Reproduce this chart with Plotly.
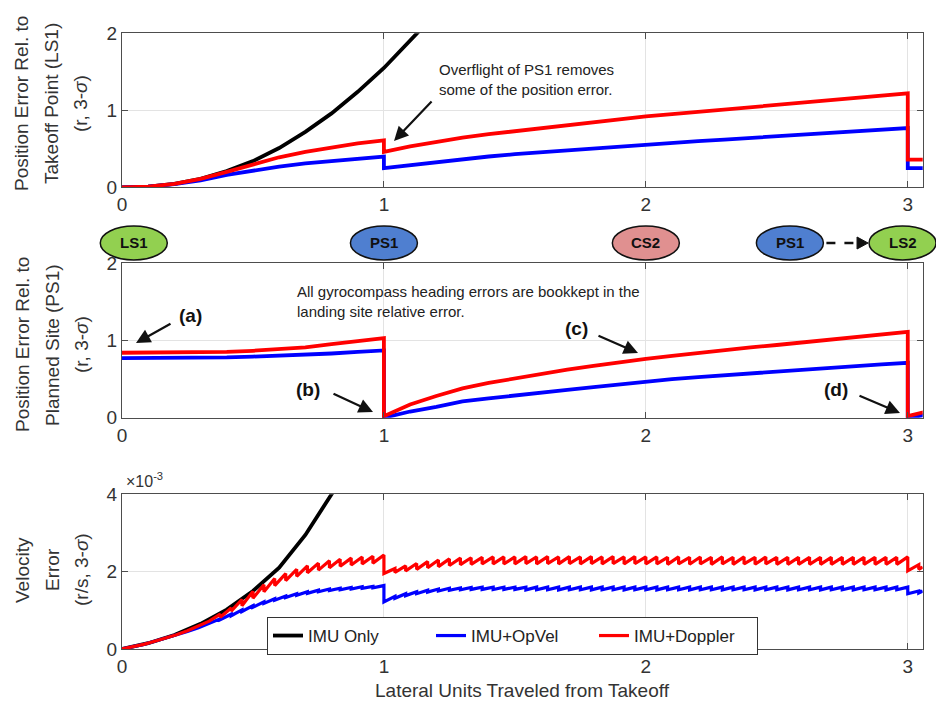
import plotly.graph_objects as go

W, H = 936, 717

# ---------------- data ----------------
# x positions (lateral units traveled from takeoff)
x_seg1 = [0.0, 0.1, 0.2, 0.3, 0.4, 0.5, 0.6, 0.7, 0.8, 0.9, 1.0]
x_seg2 = [1.0, 1.1, 1.2, 1.3, 1.4, 1.5, 1.6, 1.7, 1.8, 1.9, 2.0,
          2.1, 2.2, 2.3, 2.4, 2.5, 2.6, 2.7, 2.8, 2.9, 3.0]
x_seg3 = [3.0, 3.06]
x_full = x_seg1 + x_seg2 + x_seg3

# Panel 1: position error relative to takeoff point (LS1)
x_pos_imu = [0.0, 0.1, 0.2, 0.3, 0.4, 0.5, 0.6, 0.7, 0.8, 0.9, 1.0, 1.1, 1.16]
pos_ls1_imu = [0.0, 0.01, 0.045, 0.11, 0.21, 0.34, 0.51, 0.72, 0.96, 1.24, 1.55, 1.9, 2.12]
pos_ls1_opvel = ([0.0, 0.01, 0.04, 0.09, 0.16, 0.22, 0.27, 0.31, 0.34, 0.37, 0.40]
                 + [0.25, 0.29, 0.33, 0.37, 0.40, 0.43, 0.455, 0.48, 0.505, 0.535, 0.56,
                    0.58, 0.60, 0.62, 0.64, 0.665, 0.685, 0.705, 0.725, 0.745, 0.77]
                 + [0.25, 0.25])
pos_ls1_doppler = ([0.0, 0.01, 0.045, 0.11, 0.2, 0.3, 0.39, 0.46, 0.52, 0.57, 0.61]
                   + [0.46, 0.53, 0.59, 0.645, 0.69, 0.73, 0.77, 0.81, 0.85, 0.885, 0.92,
                      0.95, 0.98, 1.01, 1.04, 1.07, 1.10, 1.13, 1.16, 1.19, 1.22]
                   + [0.36, 0.36])

# Panel 2: position error relative to planned site (PS1)
pos_ps1_opvel = ([0.77, 0.77, 0.77, 0.775, 0.78, 0.79, 0.80, 0.815, 0.83, 0.85, 0.87]
                 + [0.0, 0.08, 0.14, 0.21, 0.25, 0.29, 0.33, 0.36, 0.395, 0.43, 0.47,
                    0.50, 0.525, 0.55, 0.575, 0.60, 0.625, 0.645, 0.67, 0.69, 0.71]
                 + [0.0, 0.03])
pos_ps1_doppler = ([0.84, 0.84, 0.84, 0.84, 0.85, 0.865, 0.885, 0.91, 0.95, 0.99, 1.03]
                   + [0.02, 0.17, 0.28, 0.38, 0.45, 0.51, 0.57, 0.62, 0.67, 0.72, 0.76,
                      0.80, 0.84, 0.875, 0.91, 0.94, 0.975, 1.01, 1.04, 1.075, 1.11]
                   + [0.02, 0.07])

# Panel 3: velocity error (units of 1e-3 r/s)
x_vel_imu = [0.0, 0.1, 0.2, 0.3, 0.4, 0.5, 0.6, 0.7, 0.8, 0.83]
vel_imu = [0.0, 0.15, 0.36, 0.65, 1.02, 1.5, 2.1, 2.95, 4.0, 4.3]

# filter update points (pre-update and post-update values)
x_upd = [0.042, 0.083, 0.125, 0.167, 0.208, 0.250, 0.292, 0.333, 0.375, 0.417, 0.458, 0.500,
         0.542, 0.583, 0.625, 0.667, 0.708, 0.750, 0.792, 0.833, 0.875, 0.917, 0.958, 1.000,
         1.042, 1.083, 1.125, 1.167, 1.208, 1.250, 1.292, 1.333, 1.375, 1.417, 1.458, 1.500,
         1.542, 1.583, 1.625, 1.667, 1.708, 1.750, 1.792, 1.833, 1.875, 1.917, 1.958, 2.000,
         2.042, 2.083, 2.125, 2.167, 2.208, 2.250, 2.292, 2.333, 2.375, 2.417, 2.458, 2.500,
         2.542, 2.583, 2.625, 2.667, 2.708, 2.750, 2.792, 2.833, 2.875, 2.917, 2.958, 3.000,
         3.042]
vel_doppler_pre = [0.06, 0.12, 0.20, 0.28, 0.37, 0.47, 0.59, 0.72, 0.90, 1.06, 1.28, 1.49,
                   1.66, 1.82, 1.95, 2.06, 2.15, 2.22, 2.28, 2.32, 2.35, 2.38, 2.40, 2.43,
                   2.08, 2.15, 2.21, 2.26, 2.30, 2.33, 2.35, 2.36, 2.37, 2.38, 2.38, 2.38,
                   2.39, 2.38, 2.39, 2.38, 2.39, 2.38, 2.39, 2.38, 2.39, 2.38, 2.39, 2.38,
                   2.38, 2.37, 2.38, 2.37, 2.38, 2.37, 2.38, 2.37, 2.38, 2.37, 2.38, 2.37,
                   2.37, 2.37, 2.37, 2.37, 2.37, 2.37, 2.37, 2.37, 2.37, 2.37, 2.37, 2.38,
                   2.18]
vel_doppler_post = [0.06, 0.12, 0.20, 0.28, 0.37, 0.47, 0.59, 0.72, 0.82, 0.98, 1.12, 1.31,
                    1.48, 1.64, 1.77, 1.88, 1.97, 2.04, 2.10, 2.14, 2.17, 2.20, 2.22, 1.95,
                    1.98, 2.02, 2.06, 2.10, 2.13, 2.16, 2.18, 2.19, 2.20, 2.20, 2.20, 2.20,
                    2.21, 2.20, 2.21, 2.20, 2.21, 2.20, 2.21, 2.20, 2.21, 2.20, 2.21, 2.20,
                    2.20, 2.19, 2.20, 2.19, 2.20, 2.19, 2.20, 2.19, 2.20, 2.19, 2.20, 2.19,
                    2.19, 2.19, 2.19, 2.19, 2.19, 2.19, 2.19, 2.19, 2.19, 2.19, 2.19, 2.02,
                    2.06]
vel_opvel_pre = [0.06, 0.12, 0.20, 0.28, 0.36, 0.45, 0.55, 0.66, 0.78, 0.90, 1.01, 1.12,
                 1.22, 1.30, 1.37, 1.43, 1.48, 1.52, 1.55, 1.57, 1.59, 1.61, 1.62, 1.64,
                 1.36, 1.43, 1.48, 1.52, 1.55, 1.57, 1.58, 1.59, 1.60, 1.60, 1.60, 1.60,
                 1.60, 1.60, 1.60, 1.60, 1.60, 1.60, 1.60, 1.60, 1.60, 1.60, 1.60, 1.60,
                 1.60, 1.60, 1.60, 1.60, 1.60, 1.60, 1.60, 1.60, 1.60, 1.60, 1.60, 1.60,
                 1.60, 1.60, 1.60, 1.60, 1.60, 1.60, 1.60, 1.60, 1.60, 1.60, 1.60, 1.60,
                 1.50]
vel_opvel_post = [0.06, 0.12, 0.20, 0.28, 0.36, 0.45, 0.55, 0.66, 0.76, 0.86, 0.97, 1.08,
                  1.18, 1.26, 1.33, 1.39, 1.44, 1.48, 1.51, 1.53, 1.55, 1.57, 1.58, 1.22,
                  1.31, 1.38, 1.43, 1.47, 1.50, 1.52, 1.53, 1.54, 1.54, 1.54, 1.54, 1.54,
                  1.53, 1.53, 1.53, 1.53, 1.53, 1.53, 1.53, 1.53, 1.53, 1.53, 1.53, 1.53,
                  1.53, 1.53, 1.53, 1.53, 1.53, 1.53, 1.53, 1.53, 1.53, 1.53, 1.53, 1.53,
                  1.53, 1.53, 1.53, 1.53, 1.53, 1.53, 1.53, 1.53, 1.53, 1.53, 1.53, 1.43,
                  1.45]
x_vel_end = 3.057
vel_doppler_end = 2.12
vel_opvel_end = 1.50

series_names = ["IMU Only", "IMU+OpVel", "IMU+Doppler"]
series_colors = ["#000000", "#0000FF", "#FF0000"]

x_ticks = [0, 1, 2, 3]
y_ticks_pos = [0, 1, 2]
y_ticks_vel = [0, 2, 4]

# sites along the route
site_labels = ["LS1", "PS1", "CS2", "PS1", "LS2"]
site_x = [0.045, 1.0, 2.0, 2.55, 2.98]
site_colors = ["#92D050", "#4F7FD0", "#E09090", "#4F7FD0", "#92D050"]


def stair(pre, post, end_val):
    xs, ys = [0.0], [0.0]
    for xu, a, b in zip(x_upd, pre, post):
        xs += [xu, xu]
        ys += [a, b]
    xs.append(x_vel_end)
    ys.append(end_val)
    return xs, ys


# ---------------- layout helpers ----------------
FONT = "Liberation Sans, Arial, sans-serif"
AX_COLOR = "#4d4d4d"
X0_PX, X1_PX = 122.0, 922.7
XMAX = 3.057


def px(xp):
    return xp / W


def py(yp):
    return 1 - yp / H


def xdata_to_px(v):
    return X0_PX + (X1_PX - X0_PX) * v / XMAX


fig = go.Figure()
LW = 3.8

# Panel 1
fig.add_trace(go.Scatter(x=x_pos_imu, y=pos_ls1_imu, mode="lines", name=series_names[0],
                         line=dict(color=series_colors[0], width=LW), xaxis="x", yaxis="y",
                         showlegend=False))
fig.add_trace(go.Scatter(x=x_full, y=pos_ls1_opvel, mode="lines", name=series_names[1],
                         line=dict(color=series_colors[1], width=LW), xaxis="x", yaxis="y",
                         showlegend=False))
fig.add_trace(go.Scatter(x=x_full, y=pos_ls1_doppler, mode="lines", name=series_names[2],
                         line=dict(color=series_colors[2], width=LW), xaxis="x", yaxis="y",
                         showlegend=False))
# Panel 2
fig.add_trace(go.Scatter(x=x_full, y=pos_ps1_opvel, mode="lines", name=series_names[1],
                         line=dict(color=series_colors[1], width=LW), xaxis="x2", yaxis="y2",
                         showlegend=False))
fig.add_trace(go.Scatter(x=x_full, y=pos_ps1_doppler, mode="lines", name=series_names[2],
                         line=dict(color=series_colors[2], width=LW), xaxis="x2", yaxis="y2",
                         showlegend=False))
# Panel 3
xo, yo = stair(vel_opvel_pre, vel_opvel_post, vel_opvel_end)
xd, yd = stair(vel_doppler_pre, vel_doppler_post, vel_doppler_end)
fig.add_trace(go.Scatter(x=x_vel_imu, y=vel_imu, mode="lines", name=series_names[0],
                         line=dict(color=series_colors[0], width=LW), xaxis="x3", yaxis="y3"))
fig.add_trace(go.Scatter(x=xo, y=yo, mode="lines", name=series_names[1],
                         line=dict(color=series_colors[1], width=LW - 0.6), xaxis="x3", yaxis="y3"))
fig.add_trace(go.Scatter(x=xd, y=yd, mode="lines", name=series_names[2],
                         line=dict(color=series_colors[2], width=LW - 0.6), xaxis="x3", yaxis="y3"))

xdom = [px(X0_PX), px(X1_PX)]
ydoms = [[py(187.3), py(33.3)], [py(417.7), py(263.0)], [py(649.0), py(494.3)]]


def xax(anchor):
    return dict(domain=xdom, range=[0, XMAX], anchor=anchor, tickvals=x_ticks,
                showline=True, linecolor=AX_COLOR, linewidth=1, mirror="ticks",
                ticks="inside", ticklen=6, tickcolor=AX_COLOR, automargin=False,
                showgrid=True, gridcolor="#e3e3e3", gridwidth=1, zeroline=False,
                tickfont=dict(family=FONT, size=19, color="#333333"))


def yax(anchor, dom, rng, tv):
    return dict(domain=dom, range=rng, anchor=anchor, tickvals=tv,
                showline=True, linecolor=AX_COLOR, linewidth=1, mirror="ticks",
                ticks="inside", ticklen=6, tickcolor=AX_COLOR, automargin=False,
                showgrid=True, gridcolor="#e3e3e3", gridwidth=1, zeroline=False,
                tickfont=dict(family=FONT, size=19, color="#333333"))


fig.update_layout(
    width=W, height=H,
    margin=dict(l=0, r=0, t=0, b=0, autoexpand=False),
    paper_bgcolor="white", plot_bgcolor="white",
    font=dict(family=FONT, color="#333333"),
    xaxis=xax("y"), yaxis=yax("x", ydoms[0], [0, 2], y_ticks_pos),
    xaxis2=xax("y2"), yaxis2=yax("x2", ydoms[1], [0, 2], y_ticks_pos),
    xaxis3=xax("y3"), yaxis3=yax("x3", ydoms[2], [0, 4], y_ticks_vel),
    showlegend=True,
    legend=dict(orientation="h", x=px(267), y=py(617), xanchor="left", yanchor="top",
                bgcolor="white", bordercolor="#333333", borderwidth=1,
                font=dict(family=FONT, size=17, color="#222222"),
                entrywidth=118, entrywidthmode="pixels", tracegroupgap=0),
    hovermode=False,
)

annos = []


def txt(text, x, y, font, **kw):
    d = dict(text=text, x=px(x), y=py(y), xref="paper", yref="paper", showarrow=False,
             xanchor="center", yanchor="middle", font=font)
    d.update(kw)
    annos.append(d)


# y-axis titles (one annotation per line)
title_font = dict(family=FONT, size=19, color="#333333")
line_x = [22, 52, 81]
for lines, cy in [(["Position Error Rel. to", "Takeoff Point (LS1)", "(r, 3-<i>σ</i>)"], 104),
                  (["Position Error Rel. to", "Planned Site (PS1)", "(r, 3-<i>σ</i>)"], 345),
                  (["Velocity", "Error", "(r/s, 3-<i>σ</i>)"], 570)]:
    for t, lx in zip(lines, line_x):
        txt(t, lx, cy, title_font, textangle=-90)

# x-axis title
txt("Lateral Units Traveled from Takeoff", 522, 690, title_font)
# exponent label
txt("×10<sup>-3</sup>", 124, 480, dict(family=FONT, size=16, color="#333333"), xanchor="left")

note_font = dict(family=FONT, size=15, color="#222222")
txt("Overflight of PS1 removes<br>some of the position error.", 437, 79, note_font,
    xanchor="left", align="left")
txt("All gyrocompass heading errors are bookkept in the<br>landing site relative error.",
    295, 301, note_font, xanchor="left", align="left")

lab_font = dict(family=FONT, size=19, color="#111111")
for t, (cx, cy) in zip(["(a)", "(b)", "(c)", "(d)"],
                       [(190, 315), (308, 389), (576, 328), (836, 389)]):
    txt("<b>" + t + "</b>", cx, cy, lab_font)

# arrows: (tail px, head px)
arrows = [((433, 100), (394, 141)),
          ((172, 323), (136, 343)),
          ((332, 393), (373, 412)),
          ((597, 335), (638, 353)),
          ((858, 395), (900, 413))]
for (tx, ty), (hx, hy) in arrows:
    annos.append(dict(text="", x=px(hx), y=py(hy), xref="paper", yref="paper",
                      ax=tx - hx, ay=ty - hy, axref="pixel", ayref="pixel",
                      showarrow=True, arrowhead=2, arrowsize=1.3, arrowwidth=2.2,
                      arrowcolor="#111111"))

# site ellipses
shapes = []
EW, EH, ECY = 67, 34, 243
site_font = dict(family="Liberation Sans Narrow, Liberation Sans, Arial", size=15, color="#111111")
for lab, sx, col in zip(site_labels, site_x, site_colors):
    cx = xdata_to_px(sx)
    shapes.append(dict(type="circle", xref="paper", yref="paper",
                       x0=px(cx - EW / 2), x1=px(cx + EW / 2),
                       y0=py(ECY + EH / 2), y1=py(ECY - EH / 2),
                       fillcolor=col, line=dict(color="#111111", width=1.5)))
    txt("<b>" + lab + "</b>", cx, ECY, site_font)

# dashed arrow PS1 -> LS2
a0 = xdata_to_px(site_x[3]) + EW / 2 + 3
a1 = xdata_to_px(site_x[4]) - EW / 2 - 1
shapes.append(dict(type="line", xref="paper", yref="paper", x0=px(a0), x1=px(a1 - 10),
                   y0=py(ECY), y1=py(ECY), line=dict(color="#111111", width=2.5, dash="dash")))
shapes.append(dict(type="path", xref="paper", yref="paper",
                   path=f"M {px(a1 - 11)} {py(ECY - 6)} L {px(a1)} {py(ECY)} L {px(a1 - 11)} {py(ECY + 6)} Z",
                   fillcolor="#111111", line=dict(color="#111111", width=1)))

fig.update_layout(annotations=annos, shapes=shapes)

fig.write_html("out.html", config={"displayModeBar": False},
               post_script="document.body.style.margin='0';document.body.style.padding='0';")
